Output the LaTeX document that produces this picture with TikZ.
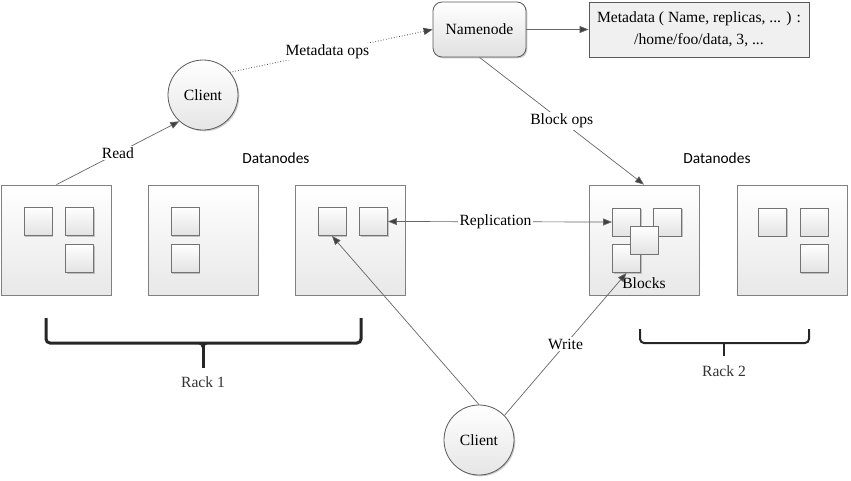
\documentclass[tikz,border=0pt]{standalone}
\usepackage{fontspec}
\setmainfont{Liberation Serif}
\newfontfamily\dnfont{Carlito}
\usetikzlibrary{arrows.meta,shadows}
\begin{document}
\begin{tikzpicture}[x=1pt,y=-1pt,font=\fontsize{15.6}{18}\selectfont,
  shd/.style={drop shadow={shadow xshift=1.3pt,shadow yshift=-1.3pt,opacity=0.35,fill=black!60}},
  bigbox/.style={draw=black!50,line width=0.8pt,top color=white,bottom color=black!9,minimum width=110pt,minimum height=110pt,inner sep=0pt},
  blk/.style={draw=black!55,line width=0.9pt,top color=white,bottom color=black!11,minimum size=28pt,inner sep=0pt,shd},
  client/.style={circle,draw=black!65,line width=0.8pt,top color=white,bottom color=black!10,minimum size=70pt,inner sep=0pt,shd},
  nnode/.style={rounded corners=9pt,draw=black!65,line width=0.8pt,top color=white,bottom color=black!12,minimum width=93pt,minimum height=55pt,shd},
  meta/.style={draw=black!65,line width=0.8pt,fill=black!6,minimum width=220pt,minimum height=55pt,align=center,shd},
  lbl/.style={fill=white,inner sep=1.5pt,text=black},
  cline/.style={draw=black!60,line width=0.7pt},
  arr/.style={cline,-{Triangle[length=9pt,width=7pt,fill=black!75]}},
  brc/.style={draw=black!85,rounded corners=4pt}]
\useasboundingbox (0,0) rectangle (851,480);

% top nodes
\node[nnode] (nn) at (479.5,29.5) {Namenode};
\node[meta,font=\fontsize{15.6}{22}\selectfont] (md) at (699,29.5) {Metadata ( Name, replicas, ... ) :\\ /home/foo/data, 3, ...};
\node[client] (c1) at (203,95) {Client};
\node[client] (c2) at (479,440) {Client};

% datanodes
\node[bigbox] (d1) at (56.5,240) {};
\node[bigbox] (d2) at (203,240) {};
\node[bigbox] (d3) at (350.5,240) {};
\node[bigbox] (dA) at (644,240) {};
\node[bigbox] (dB) at (792,240) {};

\node[blk] (b11) at (38,221.5) {};
\node[blk] (b12) at (79.5,221.5) {};
\node[blk] (b13) at (79.5,258.5) {};
\node[blk] (b21) at (185,221.5) {};
\node[blk] (b22) at (185,258.5) {};
\node[blk] (b31) at (332,221.5) {};
\node[blk] (b32) at (373.5,221.5) {};
\node[blk] (bA1) at (626.5,222) {};
\node[blk] (bA2) at (667.5,222) {};
\node[blk] (bA3) at (626.5,258.5) {};
\node[blk] (bA4) at (644,240) {};
\node[blk] (bB1) at (772.5,222) {};
\node[blk] (bB2) at (814,222) {};
\node[blk] (bB3) at (814,258.5) {};

\node[font=\dnfont\fontsize{15.4}{18}\selectfont] (dl1) at (276,158) {Datanodes};
\node[font=\dnfont\fontsize{15.4}{18}\selectfont] (dl2) at (717,158) {Datanodes};
\node (blocks) at (644,283) {Blocks};

% connectors
\draw[arr] (nn.east) -- (md.west);
\draw[arr,dotted,line width=0.9pt,draw=black!70] (c1.40) -- (nn.west) node[lbl,pos=0.48] {Metadata ops};
\draw[arr] (d1.north) -- (c1.228) node[lbl,pos=0.5] {Read};
\draw[arr] (nn.south) -- (dA.north) node[lbl,pos=0.5] {Block ops};
\draw[cline,{Triangle[length=9pt,width=7pt,fill=black!75]}-{Triangle[length=9pt,width=7pt,fill=black!75]}] (b32.east) -- (bA1.west) node[lbl,pos=0.48] {Replication};
\draw[arr] (c2.north) -- (b31.south);
\draw[arr] (c2.44) -- (bA3.south) node[lbl,pos=0.5] {Write};

% racks
\draw[brc,line width=3pt] (46,318) -- (46,343) -- (361,343) -- (361,318);
\draw[draw=black!85,line width=3pt] (203,343) -- (203,368);
\draw[draw=black!85,line width=1.2pt] (195,343) .. controls (201,343) and (203,345) .. (203,352);
\draw[draw=black!85,line width=1.2pt] (211,343) .. controls (205,343) and (203,345) .. (203,352);
\node[text=black!80] (r1) at (203,382) {Rack 1};
\draw[brc,line width=2pt] (640,329) -- (640,343) -- (809,343) -- (809,329);
\draw[draw=black!85,line width=2pt] (724,343) -- (724,356);
\node[text=black!80] (r2) at (724,371) {Rack 2};
\end{tikzpicture}
\end{document}
